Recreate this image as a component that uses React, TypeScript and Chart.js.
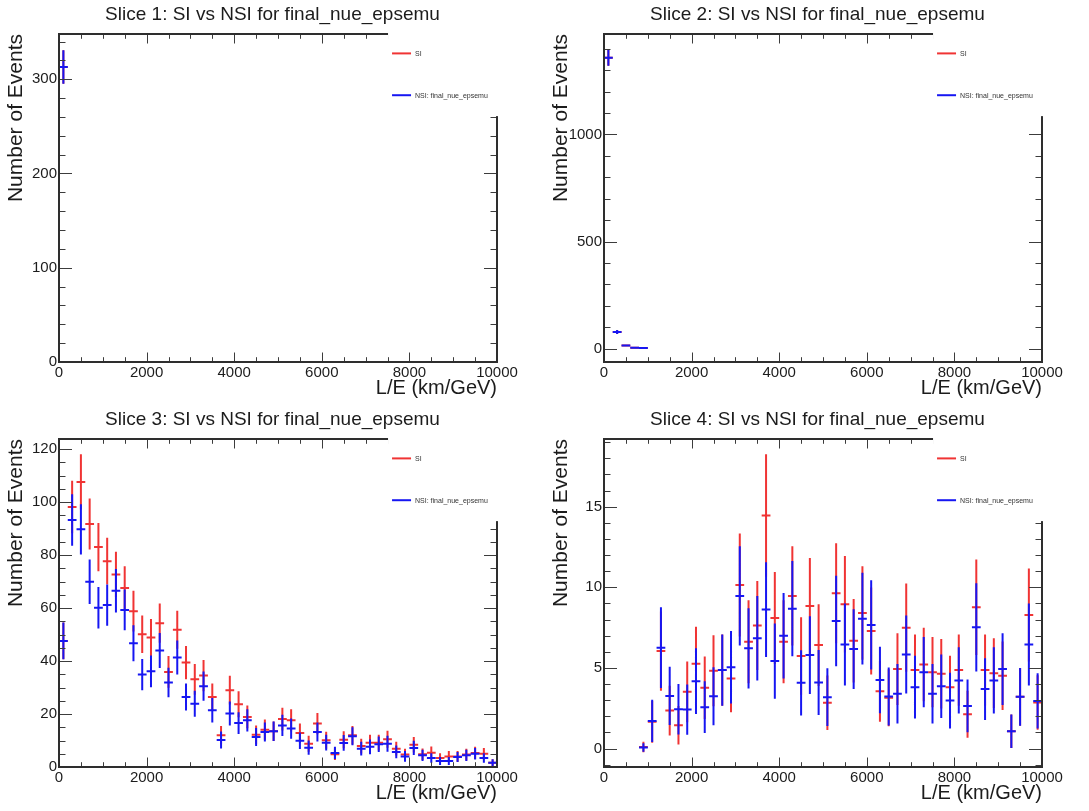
import React, { useEffect, useRef } from 'react';
import { Chart, registerables } from 'chart.js';

Chart.register(...registerables);

const _ = null;

// Histogram binning: 50 bins of L/E (km/GeV)
const binEdges = [
  0, 200, 400, 600, 800, 1000, 1200, 1400, 1600, 1800,
  2000, 2200, 2400, 2600, 2800, 3000, 3200, 3400, 3600, 3800,
  4000, 4200, 4400, 4600, 4800, 5000, 5200, 5400, 5600, 5800,
  6000, 6200, 6400, 6600, 6800, 7000, 7200, 7400, 7600, 7800,
  8000, 8200, 8400, 8600, 8800, 9000, 9200, 9400, 9600, 9800,
  10000,
];

const xTickLabels = [0, 2000, 4000, 6000, 8000, 10000];

const sliceTitles = [
  'Slice 1: SI vs NSI for final_nue_epsemu',
  'Slice 2: SI vs NSI for final_nue_epsemu',
  'Slice 3: SI vs NSI for final_nue_epsemu',
  'Slice 4: SI vs NSI for final_nue_epsemu',
];

const seriesLabels = ['SI', 'NSI: final_nue_epsemu'];

// ---------- Slice 1 ----------
const slice1SI = [
  313, _, _, _, _, _, _, _, _, _,
  _, _, _, _, _, _, _, _, _, _,
  _, _, _, _, _, _, _, _, _, _,
  _, _, _, _, _, _, _, _, _, _,
  _, _, _, _, _, _, _, _, _, _,
];
const slice1SIErr = [
  17.7, _, _, _, _, _, _, _, _, _,
  _, _, _, _, _, _, _, _, _, _,
  _, _, _, _, _, _, _, _, _, _,
  _, _, _, _, _, _, _, _, _, _,
  _, _, _, _, _, _, _, _, _, _,
];
const slice1NSI = [
  313, _, _, _, _, _, _, _, _, _,
  _, _, _, _, _, _, _, _, _, _,
  _, _, _, _, _, _, _, _, _, _,
  _, _, _, _, _, _, _, _, _, _,
  _, _, _, _, _, _, _, _, _, _,
];
const slice1NSIErr = [
  17.7, _, _, _, _, _, _, _, _, _,
  _, _, _, _, _, _, _, _, _, _,
  _, _, _, _, _, _, _, _, _, _,
  _, _, _, _, _, _, _, _, _, _,
  _, _, _, _, _, _, _, _, _, _,
];
const slice1YTicks = [0, 100, 200, 300];

// ---------- Slice 2 ----------
const slice2SI = [
  1358, 78, 15, 5, 3, _, _, _, _, _,
  _, _, _, _, _, _, _, _, _, _,
  _, _, _, _, _, _, _, _, _, _,
  _, _, _, _, _, _, _, _, _, _,
  _, _, _, _, _, _, _, _, _, _,
];
const slice2SIErr = [
  36.9, 8.8, 3.9, 2.2, 1.7, _, _, _, _, _,
  _, _, _, _, _, _, _, _, _, _,
  _, _, _, _, _, _, _, _, _, _,
  _, _, _, _, _, _, _, _, _, _,
  _, _, _, _, _, _, _, _, _, _,
];
const slice2NSI = [
  1358, 78, 15, 5, 3, _, _, _, _, _,
  _, _, _, _, _, _, _, _, _, _,
  _, _, _, _, _, _, _, _, _, _,
  _, _, _, _, _, _, _, _, _, _,
  _, _, _, _, _, _, _, _, _, _,
];
const slice2NSIErr = [
  36.9, 8.8, 3.9, 2.2, 1.7, _, _, _, _, _,
  _, _, _, _, _, _, _, _, _, _,
  _, _, _, _, _, _, _, _, _, _,
  _, _, _, _, _, _, _, _, _, _,
  _, _, _, _, _, _, _, _, _, _,
];
const slice2YTicks = [0, 500, 1000];

// ---------- Slice 3 ----------
const slice3SI = [
  47.6, 98.1, 107.6, 91.7, 83.0, 77.7, 72.7, 67.6, 58.8, 50.1,
  48.9, 54.3, 35.9, 51.8, 39.4, 33.1, 34.5, 26.4, 12.0, 29.0,
  23.7, 18.9, 12.2, 14.1, 13.5, 18.1, 17.6, 12.8, 8.8, 16.4,
  10.1, 4.8, 10.3, 12.0, 7.9, 9.2, 9.2, 10.5, 6.9, 4.7,
  8.4, 4.8, 5.4, 3.4, 4.0, 4.0, 4.7, 5.3, 5.0, 1.6,
];
const slice3SIErr = [
  6.9, 9.9, 10.4, 9.6, 9.1, 8.8, 8.5, 8.2, 7.7, 7.1,
  7.0, 7.4, 6.0, 7.2, 6.3, 5.8, 5.9, 5.1, 3.5, 5.4,
  4.9, 4.3, 3.5, 3.8, 3.7, 4.3, 4.2, 3.6, 3.0, 4.0,
  3.2, 2.2, 3.2, 3.5, 2.8, 3.0, 3.0, 3.2, 2.6, 2.2,
  2.9, 2.2, 2.3, 1.8, 2.0, 2.0, 2.2, 2.3, 2.2, 1.3,
];
const slice3NSI = [
  47.6, 93.2, 89.7, 69.9, 60.1, 61.1, 66.5, 59.3, 46.7, 34.9,
  36.1, 44.0, 31.9, 41.3, 26.4, 23.9, 30.5, 21.4, 10.2, 20.2,
  16.6, 17.6, 11.3, 13.2, 13.5, 15.7, 14.5, 9.9, 7.3, 13.2,
  9.2, 5.3, 9.1, 11.6, 6.9, 7.6, 8.6, 8.8, 5.7, 4.0,
  7.2, 4.4, 3.4, 2.3, 2.3, 3.8, 4.4, 5.0, 3.4, 1.6,
];
const slice3NSIErr = [
  6.9, 9.7, 9.5, 8.4, 7.8, 7.8, 8.2, 7.7, 6.8, 5.9,
  6.0, 6.6, 5.6, 6.4, 5.1, 4.9, 5.5, 4.6, 3.2, 4.5,
  4.1, 4.2, 3.4, 3.6, 3.7, 4.0, 3.8, 3.1, 2.7, 3.6,
  3.0, 2.3, 3.0, 3.4, 2.6, 2.8, 2.9, 3.0, 2.4, 2.0,
  2.7, 2.1, 1.8, 1.5, 1.5, 1.9, 2.1, 2.2, 1.8, 1.3,
];
const slice3YTicks = [0, 20, 40, 60, 80, 100, 120];

// ---------- Slice 4 ----------
const slice4SI = [
  _, _, _, _, 0.10, 1.66, 6.05, 2.36, 1.45, 3.52,
  5.26, 3.77, 4.83, 4.87, 4.35, 10.15, 6.63, 7.64, 14.46, 8.10,
  6.63, 9.47, 5.74, 8.85, 6.42, 2.84, 9.63, 8.95, 6.69, 8.41,
  7.29, 3.56, 3.15, 4.93, 7.50, 4.87, 5.22, 4.74, 4.64, 3.81,
  4.87, 2.13, 8.76, 4.87, 4.68, 4.52, 1.08, 3.21, 8.29, 2.86,
];
const slice4SIErr = [
  _, _, _, _, 0.32, 1.29, 2.46, 1.54, 1.20, 1.88,
  2.29, 1.94, 2.20, 2.21, 2.09, 3.19, 2.57, 2.76, 3.80, 2.85,
  2.57, 3.08, 2.40, 2.97, 2.53, 1.69, 3.10, 2.99, 2.59, 2.90,
  2.70, 1.89, 1.77, 2.22, 2.74, 2.21, 2.28, 2.18, 2.15, 1.95,
  2.21, 1.46, 2.96, 2.21, 2.16, 2.13, 1.04, 1.79, 2.88, 1.69,
];
const slice4NSI = [
  _, _, _, _, 0.07, 1.72, 6.26, 3.27, 2.44, 2.42,
  4.18, 2.57, 3.25, 4.87, 5.05, 9.47, 6.22, 6.84, 8.62, 5.43,
  7.00, 8.68, 4.08, 5.80, 4.10, 3.19, 7.91, 6.46, 6.17, 8.06,
  7.67, 4.25, 3.23, 3.40, 5.84, 3.81, 4.74, 3.40, 3.87, 2.98,
  4.23, 2.65, 7.52, 3.69, 4.23, 4.93, 1.08, 3.21, 6.46, 2.96,
];
const slice4NSIErr = [
  _, _, _, _, 0.26, 1.31, 2.50, 1.81, 1.56, 1.56,
  2.04, 1.60, 1.80, 2.21, 2.25, 3.08, 2.49, 2.62, 2.94, 2.33,
  2.65, 2.95, 2.02, 2.41, 2.02, 1.79, 2.81, 2.54, 2.48, 2.84,
  2.77, 2.06, 1.80, 1.84, 2.42, 1.95, 2.18, 1.84, 1.97, 1.73,
  2.06, 1.63, 2.74, 1.92, 2.06, 2.22, 1.04, 1.79, 2.54, 1.72,
];
const slice4YTicks = [0, 5, 10, 15];

// ---------- styling ----------
const FONT = "'Liberation Sans', Arial, Helvetica, sans-serif";
const RED = '#f03434';
const BLUE = '#1616f2';
const TEXT = '#1c1c1c';
const W = 545;
const H = 406;

type SliceCfg = {
  title: string;
  si: (number | null)[];
  siErr: (number | null)[];
  nsi: (number | null)[];
  nsiErr: (number | null)[];
  yMin: number;
  yMax: number;
  yTicks: number[];
  yMinor: number;
  left: number;
  top: number;
};

const slices: SliceCfg[] = [
  { title: sliceTitles[0], si: slice1SI, siErr: slice1SIErr, nsi: slice1NSI, nsiErr: slice1NSIErr, yMin: 0, yMax: 348, yTicks: slice1YTicks, yMinor: 20, left: 0, top: 0 },
  { title: sliceTitles[1], si: slice2SI, siErr: slice2SIErr, nsi: slice2NSI, nsiErr: slice2NSIErr, yMin: -62, yMax: 1469, yTicks: slice2YTicks, yMinor: 100, left: 545, top: 0 },
  { title: sliceTitles[2], si: slice3SI, siErr: slice3SIErr, nsi: slice3NSI, nsiErr: slice3NSIErr, yMin: 0, yMax: 123.8, yTicks: slice3YTicks, yMinor: 5, left: 0, top: 405 },
  { title: sliceTitles[3], si: slice4SI, siErr: slice4SIErr, nsi: slice4NSI, nsiErr: slice4NSIErr, yMin: -1.14, yMax: 19.2, yTicks: slice4YTicks, yMinor: 1, left: 545, top: 405 },
];

// Build ROOT-style "E" crosses: horizontal bin-width segment + vertical error segment
function crossPoints(values: (number | null)[], errors: (number | null)[]) {
  const pts: { x: number; y: number | null }[] = [];
  values.forEach((v, i) => {
    if (v === null || v === undefined) return;
    const lo = binEdges[i];
    const hi = binEdges[i + 1];
    const c = (lo + hi) / 2;
    const e = errors[i] ?? 0;
    pts.push({ x: lo, y: v }, { x: hi, y: v }, { x: c, y: null });
    pts.push({ x: c, y: v - e }, { x: c, y: v + e }, { x: c, y: null });
  });
  return pts;
}

const rootFramePlugin = {
  id: 'rootFrame',
  afterDraw(chart: any, _args: any, opts: any) {
    const { ctx, chartArea: a, scales } = chart;
    const xs = scales.x;
    const ys = scales.y;
    ctx.save();

    // tick marks on all four sides
    ctx.strokeStyle = '#3c3c3c';
    ctx.lineWidth = 1;
    ctx.beginPath();
    const xMinor = opts.xMinor;
    const xMajor = opts.xMajor;
    const nx = Math.round((xs.max - xs.min) / xMinor);
    for (let k = 0; k <= nx; k++) {
      const v = xs.min + k * xMinor;
      const major = Math.abs(v / xMajor - Math.round(v / xMajor)) < 1e-6;
      const len = major ? 9.5 : 4.8;
      const px = Math.round(xs.getPixelForValue(v)) + 0.5;
      ctx.moveTo(px, a.bottom);
      ctx.lineTo(px, a.bottom - len);
      ctx.moveTo(px, a.top);
      ctx.lineTo(px, a.top + len);
    }
    const yMinor = opts.yMinor;
    const majors: number[] = opts.yMajors;
    const start = Math.ceil(ys.min / yMinor - 1e-9);
    const end = Math.floor(ys.max / yMinor + 1e-9);
    for (let k = start; k <= end; k++) {
      const v = k * yMinor;
      const major = majors.some((m) => Math.abs(m - v) < 1e-6);
      const len = major ? 13 : 6.5;
      const py = Math.round(ys.getPixelForValue(v)) + 0.5;
      ctx.moveTo(a.left, py);
      ctx.lineTo(a.left + len, py);
      ctx.moveTo(a.right, py);
      ctx.lineTo(a.right - len, py);
    }
    ctx.stroke();

    // frame
    ctx.strokeStyle = '#2e2e2e';
    ctx.lineWidth = 2;
    ctx.strokeRect(a.left, a.top, a.right - a.left, a.bottom - a.top);

    // legend box (white, borderless, drawn over the frame like ROOT's TLegend)
    const lx1 = chart.width * 0.712;
    const lx2 = a.right + 1.5;
    const ly1 = a.top - 1.5;
    const ly2 = chart.height * 0.286;
    ctx.fillStyle = '#ffffff';
    ctx.fillRect(lx1, ly1, lx2 - lx1, ly2 - ly1);
    const ds = chart.data.datasets;
    const rowH = (ly2 - ly1) / ds.length;
    ds.forEach((d: any, i: number) => {
      const cy = ly1 + rowH * (i + 0.5);
      ctx.strokeStyle = d.borderColor;
      ctx.lineWidth = 2;
      ctx.beginPath();
      ctx.moveTo(lx1 + 4, cy);
      ctx.lineTo(lx1 + 23, cy);
      ctx.stroke();
      ctx.fillStyle = '#333';
      ctx.font = `7px ${FONT}`;
      ctx.textAlign = 'left';
      ctx.textBaseline = 'middle';
      ctx.fillText(d.label, lx1 + 27, cy + 0.5);
    });

    ctx.restore();
  },
};

function buildConfig(s: SliceCfg): any {
  return {
    type: 'line',
    data: {
      datasets: [
        {
          label: seriesLabels[0],
          data: crossPoints(s.si, s.siErr),
          borderColor: RED,
          borderWidth: 2,
          pointRadius: 0,
          fill: false,
          spanGaps: false,
          tension: 0,
          borderCapStyle: 'butt',
          order: 2,
        },
        {
          label: seriesLabels[1],
          data: crossPoints(s.nsi, s.nsiErr),
          borderColor: BLUE,
          borderWidth: 2,
          pointRadius: 0,
          fill: false,
          spanGaps: false,
          tension: 0,
          borderCapStyle: 'butt',
          order: 1,
        },
      ],
    },
    options: {
      animation: false,
      responsive: false,
      events: [],
      layout: { padding: 0 },
      plugins: {
        legend: { display: false },
        tooltip: { enabled: false },
        title: {
          display: true,
          text: s.title,
          color: TEXT,
          font: { family: FONT, size: 19, weight: 'normal' },
          padding: { top: 3, bottom: 8.2 },
        },
        rootFrame: { xMinor: 500, xMajor: 2000, yMinor: s.yMinor, yMajors: s.yTicks },
      },
      scales: {
        x: {
          type: 'linear',
          position: 'bottom',
          min: binEdges[0],
          max: binEdges[binEdges.length - 1],
          afterBuildTicks: (scale: any) => {
            scale.ticks = xTickLabels.map((v) => ({ value: v }));
          },
          afterFit: (scale: any) => {
            scale.height = 44;
          },
          ticks: {
            autoSkip: false,
            maxRotation: 0,
            minRotation: 0,
            padding: 2,
            color: TEXT,
            font: { family: FONT, size: 15 },
            callback: (v: any) => String(v),
          },
          grid: { display: false, drawTicks: false },
          border: { display: false },
          title: {
            display: true,
            text: 'L/E (km/GeV)',
            align: 'end',
            color: TEXT,
            font: { family: FONT, size: 20 },
            padding: { top: 0, bottom: 6 },
          },
        },
        y: {
          type: 'linear',
          position: 'left',
          min: s.yMin,
          max: s.yMax,
          afterBuildTicks: (scale: any) => {
            scale.ticks = s.yTicks.map((v) => ({ value: v }));
          },
          afterFit: (scale: any) => {
            scale.width = 59;
          },
          ticks: {
            autoSkip: false,
            padding: 2,
            color: TEXT,
            font: { family: FONT, size: 15 },
            callback: (v: any) => String(v),
          },
          grid: { display: false, drawTicks: false },
          border: { display: false },
          title: {
            display: true,
            text: 'Number of Events',
            align: 'end',
            color: TEXT,
            font: { family: FONT, size: 21 },
            padding: { top: 4, bottom: 0 },
          },
        },
        yR: {
          type: 'linear',
          position: 'right',
          display: true,
          afterFit: (scale: any) => {
            scale.width = 48;
          },
          ticks: { display: false },
          grid: { display: false, drawTicks: false },
          border: { display: false },
        },
      },
    },
    plugins: [rootFramePlugin],
  };
}

function Panel({ cfg }: { cfg: SliceCfg }) {
  const ref = useRef<HTMLCanvasElement>(null);
  useEffect(() => {
    if (!ref.current) return;
    const chart = new Chart(ref.current, buildConfig(cfg));
    return () => chart.destroy();
  }, [cfg]);
  return (
    <canvas
      ref={ref}
      width={W}
      height={H}
      style={{ position: 'absolute', left: cfg.left, top: cfg.top, width: W, height: H }}
    />
  );
}

export default function App() {
  return (
    <div
      style={{
        position: 'absolute',
        left: 0,
        top: 0,
        width: 1089,
        height: 811,
        overflow: 'hidden',
        background: '#ffffff',
      }}
    >
      {slices.map((s, i) => (
        <Panel key={i} cfg={s} />
      ))}
    </div>
  );
}
